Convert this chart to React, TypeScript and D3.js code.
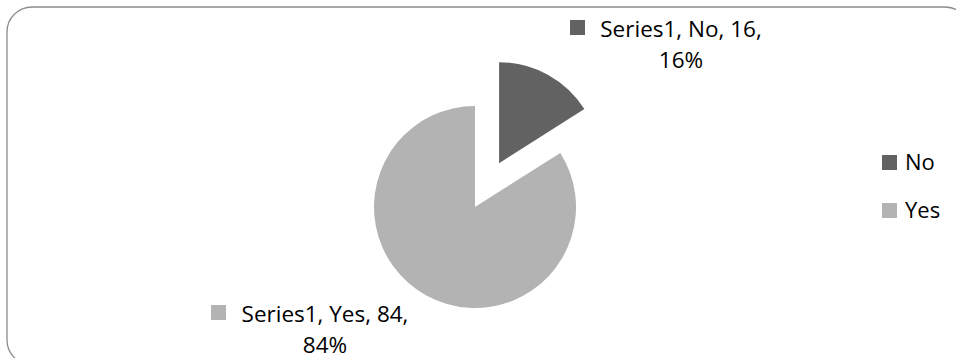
import React from "react";
import * as d3 from "d3";

const categories = ["No", "Yes"];
const values = [16, 84];
const seriesName = "Series1";
const colors = ["#626262", "#b3b3b3"];

const W = 956;
const H = 358;
const FONT = "'Open Sans', 'DejaVu Sans', sans-serif";

export default function App() {
  const cx = 475;
  const cy = 207;
  const r = 101;
  const explode = 50;
  const total = d3.sum(values);

  const pie = d3
    .pie<number>()
    .sort(null)
    .value((d) => d)
    .startAngle(0)
    .endAngle(2 * Math.PI);
  const arcs = pie(values);
  const arc = d3.arc<d3.PieArcDatum<number>>().innerRadius(0).outerRadius(r);

  const labelPos = [
    { cx: 681, y1: 37, y2: 68, mx: 570, my: 20 },
    { cx: 325, y1: 322, y2: 353, mx: 211, my: 305 },
  ];

  const legendY = d3.scalePoint<string>().domain(categories).range([170, 218]);

  const fmt = d3.format(".0%");

  return (
    <svg
      width={W}
      height={H}
      style={{ position: "absolute", left: 0, top: 0, background: "#fff" }}
      fontFamily={FONT}
    >
      <rect x={7} y={7} width={963} height={358} rx={25} ry={25} fill="#fff" stroke="#8c8c8c" strokeWidth={1.3} />
      {arcs.map((a, i) => {
        const mid = (a.startAngle + a.endAngle) / 2;
        const off = i === 0 ? explode : 0;
        const dx = Math.sin(mid) * off;
        const dy = -Math.cos(mid) * off;
        return (
          <path key={i} d={arc(a) || ""} transform={`translate(${cx + dx},${cy + dy})`} fill={colors[i]} />
        );
      })}
      {categories.map((c, i) => {
        const p = labelPos[i];
        return (
          <g key={"lab" + i}>
            <rect x={p.mx} y={p.my} width={15} height={15} fill={colors[i]} />
            <text x={p.cx} y={p.y1} textAnchor="middle" fontSize={22.5} fill="#000">
              {`${seriesName}, ${c}, ${values[i]},`}
            </text>
            <text x={p.cx} y={p.y2} textAnchor="middle" fontSize={22.5} fill="#000">
              {fmt(values[i] / total)}
            </text>
          </g>
        );
      })}
      {categories.map((c) => {
        const by = legendY(c) as number;
        const i = categories.indexOf(c);
        return (
          <g key={"leg" + c}>
            <rect x={882} y={by - 15} width={15} height={15} fill={colors[i]} />
            <text x={905} y={by} fontSize={22} fill="#000">
              {c}
            </text>
          </g>
        );
      })}
    </svg>
  );
}
